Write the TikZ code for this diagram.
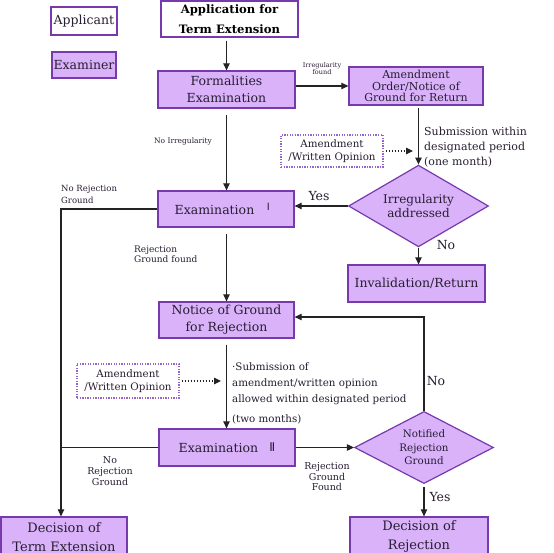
\documentclass[tikz,border=0pt]{standalone}
\usepackage{fontspec}
\setmainfont{DejaVu Serif}
\newfontfamily\numfont{DejaVu Sans}
\usetikzlibrary{arrows.meta,shapes.geometric}
\definecolor{pfill}{RGB}{217,178,250}
\definecolor{pline}{RGB}{118,58,172}
\definecolor{lnk}{RGB}{35,35,35}
\definecolor{dotc}{RGB}{150,100,205}
\definecolor{txt}{RGB}{40,30,50}
\newcommand{\fs}[2]{\fontsize{#1}{#2}\selectfont}
\tikzset{
  pbox/.style={draw=pline, fill=pfill, line width=1.3pt, inner sep=0pt, align=center, text=txt, font=\fs{12.5}{17}},
  wbox/.style={pbox, fill=white},
  dbox/.style={draw=dotc, dash pattern=on 1.3pt off 1.3pt, line width=1.2pt, fill=white, inner sep=0pt, align=center, text=txt, font=\fs{10.3}{12.5}},
  dia/.style={diamond, draw=pline, fill=pfill, line width=1.2pt, inner sep=-3pt, align=center, text=txt},
  conn/.style={draw=lnk, line width=1.1pt},
  arr/.style={conn, -{Triangle[length=7pt,width=6.5pt]}},
  darr/.style={arr, dash pattern=on 1.5pt off 1.5pt},
  lbl/.style={inner sep=0pt, text=txt},
}
\begin{document}
\begin{tikzpicture}[x=1pt,y=-1pt]
\clip (0,0) rectangle (554,553);
\fill[white] (0,0) rectangle (554,553);

% legend
\node[wbox, minimum width=66pt, minimum height=28pt] (leg1) at (84,21) {Applicant};
\node[pbox, minimum width=64pt, minimum height=26pt] (leg2) at (84,65) {Examiner};

% main nodes
\node[wbox, minimum width=137pt, minimum height=36pt, font=\fs{11.6}{20.5}\bfseries, text=black] (app) at (229.5,19) {Application for\\Term Extension};
\node[pbox, minimum width=137pt, minimum height=37pt] (form) at (226.5,89.5) {Formalities\\Examination};
\node[pbox, minimum width=134pt, minimum height=38pt, font=\fs{11}{11.8}] (amend) at (416,86) {Amendment\\Order/Notice of\\Ground for Return};
\node[dbox, minimum width=102pt, minimum height=32pt] (dot1) at (332,151) {Amendment\\/Written Opinion};
\node[dia, minimum width=140pt, minimum height=54pt, font=\fs{12}{13.5}] (d1) at (418.5,206) {Irregularity\\addressed};
\node[pbox, minimum width=136pt, minimum height=36pt] (exam1) at (226,209) {Examination\hspace{1em}\raisebox{3.5pt}{\numfont\fs{10}{10}Ⅰ}\hspace{0.6em}};
\node[pbox, minimum width=137pt, minimum height=37pt] (inval) at (416.5,283.5) {Invalidation/Return};
\node[pbox, minimum width=135pt, minimum height=36pt] (notice) at (226.5,320) {Notice of Ground\\for Rejection};
\node[dbox, minimum width=102pt, minimum height=34pt] (dot2) at (128,381) {Amendment\\/Written Opinion};
\node[pbox, minimum width=136pt, minimum height=37pt] (exam2) at (227,447.5) {Examination\hspace{0.9em}\raisebox{1.5pt}{\numfont\fs{12}{12}Ⅱ}};
\node[dia, minimum width=139pt, minimum height=55pt, font=\fs{10.3}{13.5}] (d2) at (424,447.5) {Notified\\Rejection\\Ground};
\node[pbox, minimum width=126pt, minimum height=40pt, font=\fs{13}{19}] (dte) at (64,537) {Decision of\\Term Extension};
\node[pbox, minimum width=138pt, minimum height=40pt, font=\fs{13}{19}] (drj) at (419,537) {Decision of\\Rejection};

% helper coordinates
\coordinate (c1) at (413,151);
\coordinate (c2) at (221,381);
\coordinate (k1) at (61,209);
\coordinate (k2) at (424,317);

% connectors
\draw[arr, shorten <=3pt] (app.south -| form.north) -- (form.north);
\draw[arr] (form.east |- amend.west) -- (amend.west);
\draw[arr, shorten <=6pt] (form.south) -- (form.south |- exam1.north);
\draw[arr, shorten <=2pt] (amend.south -| d1.north) -- (d1.north);
\draw[darr, shorten <=2pt] (dot1.east) -- (c1);
\draw[arr] (d1.west) -- (d1.west -| exam1.east);
\draw[arr, shorten <=1pt] (d1.south) -- (d1.south |- inval.north);
\draw[arr] (exam1.west) -- (k1) -- (k1 |- dte.north);
\draw[arr, shorten <=6pt] (exam1.south -| notice.north) -- (notice.north);
\draw[arr, shorten <=6pt] (notice.south) -- (notice.south |- exam2.north);
\draw[darr, shorten <=2pt] (dot2.east) -- (c2);
\draw[conn] (exam2.west) -- (exam2.west -| k1);
\draw[arr] (exam2.east) -- (d2.west);
\draw[arr] (d2.north) -- (k2) -- (k2 -| notice.east);
\draw[arr, shorten <=3pt] (d2.south) -- (d2.south |- drj.north);

% labels
\node[lbl, font=\fs{6.5}{7}, align=center] (lirr) at (322,69) {Irregularity\\found};
\node[lbl, font=\fs{7.5}{8}] (lnoirr) at (183,141) {No Irregularity};
\node[lbl, font=\fs{11}{15}, align=left, anchor=west] (lsub1) at (424,147) {Submission within\\designated period\\(one month)};
\node[lbl, font=\fs{12.5}{13}] (lyes1) at (319,196) {Yes};
\node[lbl, font=\fs{12.5}{13}] (lno1) at (446,245) {No};
\node[lbl, font=\fs{8.5}{12}, align=left, anchor=west] (lnrg1) at (61,194) {No Rejection\\Ground};
\node[lbl, font=\fs{9}{10}, align=left, anchor=west] (lrgf1) at (134,254) {Rejection\\Ground found};
\node[lbl, font=\fs{10.3}{16}, align=left, anchor=west] (lsub2) at (232,393) {·Submission of\\amendment/written opinion\\allowed within designated period\\[4pt](two months)};
\node[lbl, font=\fs{12.5}{13}] (lno2) at (436,381) {No};
\node[lbl, font=\fs{9.5}{11}, align=center] (lnrg2) at (110,471) {No\\Rejection\\Ground};
\node[lbl, font=\fs{9.5}{10.5}, align=center] (lrgf2) at (327,477) {Rejection\\Ground\\Found};
\node[lbl, font=\fs{12.5}{13}] (lyes2) at (440,497) {Yes};
\end{tikzpicture}
\end{document}
